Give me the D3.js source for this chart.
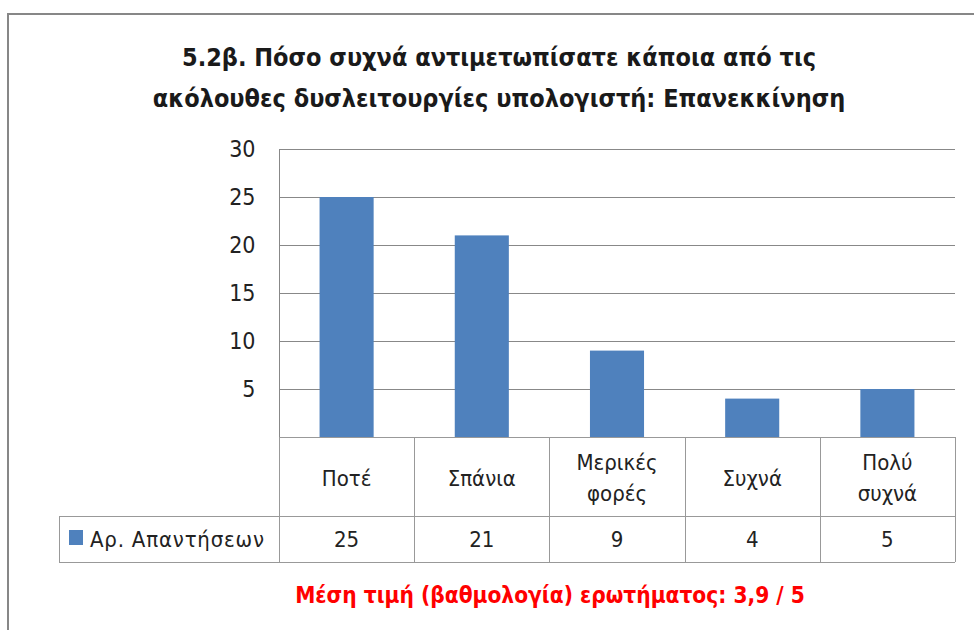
<!DOCTYPE html>
<html>
<head>
<meta charset="utf-8">
<script src="https://cdn.jsdelivr.net/npm/d3@7"></script>
<style>
  body { margin: 0; background: #fff; }
  text { font-family: "DejaVu Sans Condensed", "DejaVu Sans", sans-serif; font-stretch: condensed; }
</style>
</head>
<body>
<div id="chart"></div>
<script>
var titleLines = ["5.2β. Πόσο συχνά αντιμετωπίσατε κάποια από τις",
                  "ακόλουθες δυσλειτουργίες υπολογιστή: Επανεκκίνηση"];
var categories = [["Ποτέ"], ["Σπάνια"], ["Μερικές", "φορές"], ["Συχνά"], ["Πολύ", "συχνά"]];
var values = [25, 21, 9, 4, 5];
var yTicks = [5, 10, 15, 20, 25, 30];
var seriesName = "Αρ. Απαντήσεων";
var note = "Μέση τιμή (βαθμολογία) ερωτήματος: 3,9 / 5";

var svg_dx = 974, svg_dy = 630,
    plot = {left: 279, right: 955, top: 149, bottom: 437},
    catRow = 79, valRow = 46, legendLeft = 59;

var svg = d3.select("#chart").append("svg")
    .attr("width", svg_dx)
    .attr("height", svg_dy);

// outer chart frame (runs off the page right and bottom)
svg.append("path")
   .attr("d", "M8,640 V14 H990")
   .attr("fill", "none")
   .attr("stroke", "#878787")
   .attr("stroke-width", 2);

var x = d3.scaleBand().domain(d3.range(values.length))
          .range([plot.left, plot.right]).paddingInner(0.6).paddingOuter(0.3);
var xc = d3.scaleBand().domain(d3.range(values.length)).range([plot.left, plot.right]);
var y = d3.scaleLinear().domain([0, 30]).range([plot.bottom, plot.top]);

// title
svg.append("g").selectAll("text")
   .data(titleLines).enter().append("text")
   .attr("x", 499)
   .attr("y", (d, i) => 66 + i * 41)
   .attr("text-anchor", "middle")
   .style("font-size", "25px")
   .style("font-weight", "bold")
   .style("fill", "#1a1a1a")
   .text(d => d);

// gridlines
svg.append("g").selectAll("line")
   .data(yTicks).enter().append("line")
   .attr("x1", plot.left).attr("x2", plot.right)
   .attr("y1", d => y(d) + 0.5).attr("y2", d => y(d) + 0.5)
   .attr("stroke", "#888").attr("stroke-width", 1);

// y axis
var yAxis = svg.append("g")
   .attr("transform", "translate(" + (plot.left + 0.5) + ",0)")
   .call(d3.axisLeft(y).tickValues(yTicks).tickSize(0).tickPadding(24));
yAxis.select(".domain").attr("stroke", "#888").attr("d", "M0," + plot.bottom + "V" + plot.top);
yAxis.selectAll("text").style("font-size", "23px").style("fill", "#222")
   .style("font-family", "'DejaVu Sans Condensed', 'DejaVu Sans', sans-serif");

// bars
svg.append("g").selectAll("rect")
   .data(values).enter().append("rect")
   .attr("x", (d, i) => x(i))
   .attr("width", x.bandwidth())
   .attr("y", d => y(d))
   .attr("height", d => y(0) - y(d))
   .attr("fill", "#4f81bd");

// data table
var tb = svg.append("g").attr("stroke", "#999").attr("stroke-width", 1).attr("fill", "none");
var rowTop = plot.bottom, rowMid = plot.bottom + catRow, rowBot = rowMid + valRow;
tb.append("line").attr("x1", plot.left).attr("x2", plot.right).attr("y1", rowTop + 0.5).attr("y2", rowTop + 0.5);
tb.append("line").attr("x1", legendLeft).attr("x2", plot.right).attr("y1", rowMid + 0.5).attr("y2", rowMid + 0.5);
tb.append("line").attr("x1", legendLeft).attr("x2", plot.right).attr("y1", rowBot + 0.5).attr("y2", rowBot + 0.5);
tb.append("line").attr("x1", legendLeft + 0.5).attr("x2", legendLeft + 0.5).attr("y1", rowMid).attr("y2", rowBot);
tb.selectAll(".sep")
   .data(d3.range(values.length + 1)).enter().append("line")
   .attr("x1", i => Math.round(plot.left + i * xc.bandwidth()) + 0.5)
   .attr("x2", i => Math.round(plot.left + i * xc.bandwidth()) + 0.5)
   .attr("y1", rowTop).attr("y2", rowBot);

// category labels
var catText = svg.append("g").selectAll("text")
   .data(categories).enter().append("text")
   .attr("text-anchor", "middle")
   .style("font-size", "22px")
   .style("fill", "#222")
   .attr("transform", (d, i) => "translate(" + (xc(i) + xc.bandwidth() / 2) + "," + (rowTop + catRow / 2) + ")");
catText.selectAll("tspan")
   .data(d => d.map((t, j) => ({t: t, j: j, n: d.length}))).enter().append("tspan")
   .attr("x", 0)
   .attr("y", d => (d.j - (d.n - 1) / 2) * 31 + 9)
   .text(d => d.t);

// values row
svg.append("g").selectAll("text")
   .data(values).enter().append("text")
   .attr("x", (d, i) => xc(i) + xc.bandwidth() / 2)
   .attr("y", rowMid + valRow / 2 + 8)
   .attr("text-anchor", "middle")
   .style("font-size", "22px")
   .style("fill", "#222")
   .text(d => d);

// legend key
svg.append("rect")
   .attr("x", 69).attr("y", rowMid + 14).attr("width", 14).attr("height", 15)
   .attr("fill", "#4f81bd");
svg.append("text")
   .attr("x", 90).attr("y", rowMid + valRow / 2 + 8)
   .style("font-size", "22px")
   .style("letter-spacing", "0.8px")
   .style("fill", "#222")
   .text(seriesName);

// note
svg.append("text")
   .attr("x", 550).attr("y", 603)
   .attr("text-anchor", "middle")
   .style("font-size", "22.5px")
   .style("font-weight", "bold")
   .style("fill", "#ff0000")
   .text(note);
</script>
</body>
</html>
